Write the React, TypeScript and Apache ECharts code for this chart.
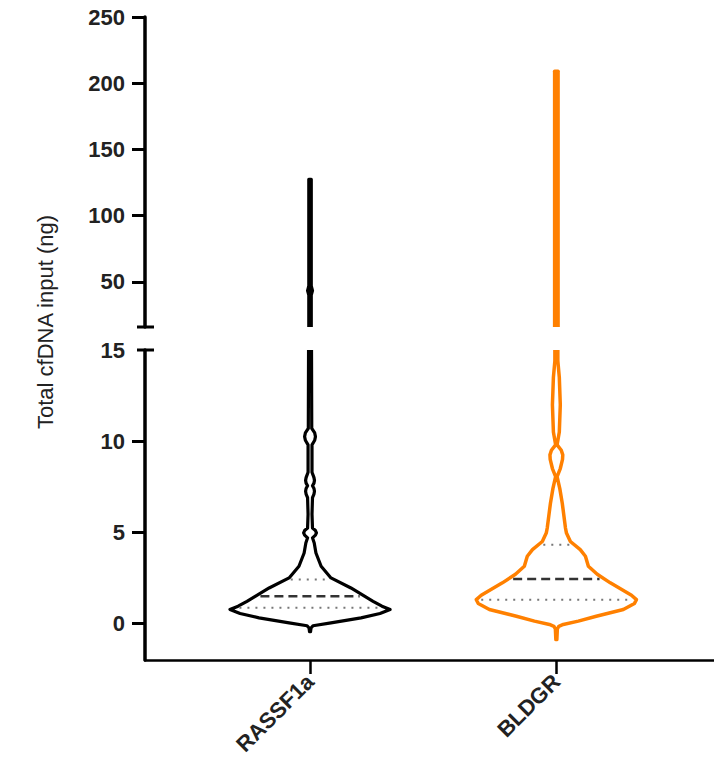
import React, { useEffect, useRef } from "react";
import * as echarts from "echarts";

// ---------- data ----------
const categories = ["RASSF1a", "BLDGR"];
const centers = [1, 2];
const colors = ["#000000", "#FF8000"];

// lower segment (-2 .. 15): violin profile, y values and half-widths (x-axis units)
const rassfLowY = [-0.45, -0.25, -0.12, 0.04, 0.31, 0.55, 0.77, 0.95, 1.22, 1.95, 2.5, 3.14, 3.87, 4.42, 4.7, 4.85, 4.97, 5.1, 5.24, 6.0, 6.9, 7.1, 7.25, 7.4, 7.55, 7.7, 7.85, 8.0, 8.3, 9.8, 10.05, 10.25, 10.45, 10.7, 15];
const rassfLowW = [0.002, 0.004, 0.012, 0.085, 0.207, 0.284, 0.325, 0.292, 0.256, 0.166, 0.085, 0.045, 0.024, 0.017, 0.010, 0.022, 0.026, 0.022, 0.010, 0.008, 0.010, 0.016, 0.018, 0.016, 0.010, 0.016, 0.018, 0.016, 0.008, 0.008, 0.019, 0.022, 0.019, 0.007, 0.006];
const bldgrLowY = [-0.88, -0.3, -0.15, -0.05, 0.13, 0.4, 0.77, 1.1, 1.31, 1.55, 2.23, 2.7, 3.14, 3.69, 4.05, 4.5, 4.96, 5.24, 6.6, 7.4, 8.06, 8.5, 9.0, 9.25, 9.5, 9.8, 10.5, 12, 13.5, 14.4, 15];
const bldgrLowW = [0.002, 0.004, 0.010, 0.028, 0.089, 0.162, 0.272, 0.317, 0.325, 0.305, 0.219, 0.166, 0.130, 0.118, 0.097, 0.057, 0.041, 0.037, 0.024, 0.014, 0.003, 0.016, 0.025, 0.026, 0.020, 0.003, 0.012, 0.016, 0.012, 0.006, 0.006];

// upper segment (16 .. 250)
const rassfHighY = [16, 40, 43.5, 47, 127.5];
const rassfHighW = [0.005, 0.005, 0.01, 0.005, 0.005];
const bldgrHighY = [16, 209];
const bldgrHighW = [0.007, 0.007];

// quartiles
const q1 = [0.87, 1.31];
const medians = [1.5, 2.44];
const q3 = [2.41, 4.32];

// axes
const upperMin = 16;
const upperMax = 250;
const upperTicks = [50, 100, 150, 200, 250];
const lowerMin = -2;
const lowerMax = 15;
const lowerTicks = [0, 5, 10];
const lowerLabels = [0, 5, 10, 15];
const xMin = 0.33;
const xMax = 2.64;

const lowProfiles = [
  { y: rassfLowY, w: rassfLowW },
  { y: bldgrLowY, w: bldgrLowW },
];
const highProfiles = [
  { y: rassfHighY, w: rassfHighW },
  { y: bldgrHighY, w: bldgrHighW },
];

const FONT = 'Arial, "Liberation Sans", sans-serif';

function interp(ys: number[], ws: number[], v: number) {
  for (let i = 0; i < ys.length - 1; i++) {
    if (v >= ys[i] && v <= ys[i + 1]) {
      const t = (v - ys[i]) / (ys[i + 1] - ys[i]);
      return ws[i] + t * (ws[i + 1] - ws[i]);
    }
  }
  return 0;
}

function makeRender(profiles: { y: number[]; w: number[] }[], withQuartiles: boolean) {
  return (params: any, api: any) => {
    const i = params.dataIndex;
    const c = centers[i];
    const p = profiles[i];
    const pts: number[][] = [];
    for (let k = 0; k < p.y.length; k++) pts.push(api.coord([c + p.w[k], p.y[k]]));
    for (let k = p.y.length - 1; k >= 0; k--) pts.push(api.coord([c - p.w[k], p.y[k]]));
    const children: any[] = [
      {
        type: "polygon",
        shape: { points: pts },
        style: {
          fill: withQuartiles ? "#ffffff" : colors[i],
          stroke: colors[i],
          lineWidth: i === 1 ? 3.5 : 3.2,
          lineJoin: "round",
        },
      },
    ];
    if (withQuartiles) {
      const inset = 0.02;
      const lines = [
        { v: q1[i], dash: [2, 6], color: "#777", w: 2 },
        { v: q3[i], dash: [2, 6], color: "#777", w: 2 },
        { v: medians[i], dash: [9, 5], color: "#333", w: 2.5 },
      ];
      lines.forEach((l) => {
        const hw = Math.max(interp(p.y, p.w, l.v) - inset, 0.01);
        const a = api.coord([c - hw, l.v]);
        const b = api.coord([c + hw, l.v]);
        children.push({
          type: "line",
          shape: { x1: a[0], y1: a[1], x2: b[0], y2: b[1] },
          style: { stroke: l.color, lineWidth: l.w, lineDash: l.dash },
        });
      });
    }
    return { type: "group", children };
  };
}

export default function App() {
  const ref = useRef<HTMLDivElement>(null);
  useEffect(() => {
    document.body.style.margin = "0";
    const chart = echarts.init(ref.current!, undefined, { renderer: "svg" });
    const labelStyle = { fontSize: 22, fontWeight: "bold" as const, color: "#222", fontFamily: FONT };
    const option: any = {
      animation: false,
      grid: [
        { left: 145, top: 17, width: 569, height: 310 },
        { left: 145, top: 350, width: 569, height: 310 },
      ],
      xAxis: [
        { gridIndex: 0, type: "value", min: xMin, max: xMax, show: false },
        {
          gridIndex: 1,
          type: "value",
          min: xMin,
          max: xMax,
          axisLine: { show: true, onZero: false, lineStyle: { color: "#000", width: 2.5 } },
          axisTick: { show: true, length: 14, customValues: centers, lineStyle: { color: "#000", width: 2.5 } },
          axisLabel: {
            ...labelStyle,
            customValues: centers,
            formatter: (v: number) => categories[Math.round(v) - 1] ?? "",
            rotate: 45,
            margin: 18,
          },
          splitLine: { show: false },
        },
      ],
      yAxis: [
        {
          gridIndex: 0,
          type: "value",
          min: upperMin,
          max: upperMax,
          axisLine: { show: true, onZero: false, lineStyle: { color: "#000", width: 3.5 } },
          axisTick: { show: true, length: 13, customValues: upperTicks, lineStyle: { color: "#000", width: 3 } },
          axisLabel: { ...labelStyle, customValues: upperTicks, margin: 20 },
          splitLine: { show: false },
        },
        {
          gridIndex: 1,
          type: "value",
          min: lowerMin,
          max: lowerMax,
          axisLine: { show: true, onZero: false, lineStyle: { color: "#000", width: 3.5 } },
          axisTick: { show: true, length: 13, customValues: lowerTicks, lineStyle: { color: "#000", width: 3 } },
          axisLabel: { ...labelStyle, customValues: lowerLabels, margin: 20 },
          splitLine: { show: false },
        },
      ],
      graphic: [
        {
          type: "text",
          x: 45,
          y: 322,
          rotation: Math.PI / 2,
          style: {
            text: "Total cfDNA input (ng)",
            font: `22px ${FONT}`,
            fill: "#222",
            textAlign: "center",
            textVerticalAlign: "middle",
          },
        },
        { type: "line", shape: { x1: 137, y1: 327, x2: 154, y2: 327 }, style: { stroke: "#000", lineWidth: 3 } },
        { type: "line", shape: { x1: 137, y1: 350, x2: 154, y2: 350 }, style: { stroke: "#000", lineWidth: 3 } },
      ],
      series: [
        {
          type: "custom",
          xAxisIndex: 1,
          yAxisIndex: 1,
          clip: true,
          renderItem: makeRender(lowProfiles, true),
          data: centers.map((c, i) => [c, i]),
        },
        {
          type: "custom",
          xAxisIndex: 0,
          yAxisIndex: 0,
          clip: true,
          renderItem: makeRender(highProfiles, false),
          data: centers.map((c, i) => [c, i]),
        },
      ],
    };
    chart.setOption(option);
    return () => chart.dispose();
  }, []);
  return <div ref={ref} style={{ position: "absolute", left: 0, top: 0, width: 714, height: 765 }} />;
}
